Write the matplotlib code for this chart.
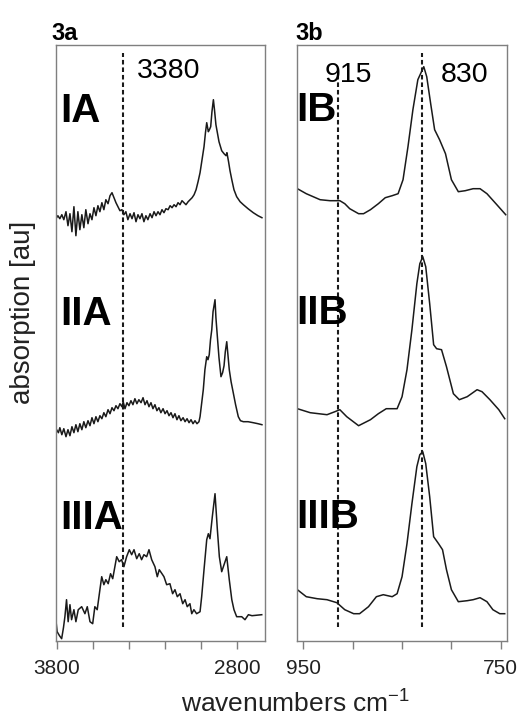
import numpy as np
import matplotlib
matplotlib.use('Agg')
import matplotlib.pyplot as plt

plt.rcParams['font.family'] = ['Liberation Sans', 'DejaVu Sans']
plt.rcParams['mathtext.default'] = 'regular'

# Painel 3a: regiao 3800-2650 cm-1 (unidades arbitrarias)
wn_IA = [3800, 3793, 3782, 3771, 3760, 3748, 3737, 3726, 3715, 3704, 3693, 3682, 3671, 3660, 3649,
         3638, 3626, 3615, 3604, 3593, 3582, 3571, 3560, 3549, 3538, 3527, 3515, 3504, 3493, 3482,
         3471, 3460, 3449, 3438, 3427, 3416, 3405, 3393, 3382, 3371, 3360, 3349, 3338, 3327, 3316,
         3305, 3294, 3282, 3271, 3260, 3249, 3238, 3227, 3216, 3205, 3194, 3182, 3171, 3160, 3149,
         3138, 3127, 3116, 3105, 3094, 3083, 3071, 3060, 3049, 3038, 3027, 3016, 3005, 2994, 2983,
         2975, 2968, 2959, 2953, 2946, 2939, 2931, 2925, 2917, 2909, 2900, 2885, 2872, 2861, 2856,
         2847, 2839, 2829, 2817, 2802, 2783, 2765, 2739, 2710, 2684, 2662]
abs_IA = [23, 25, 22, 26, 21, 29, 15, 27, 9, 34, 5, 29, 11, 26, 13,
          31, 17, 27, 21, 33, 25, 35, 29, 38, 31, 41, 37, 45, 48, 43,
          38, 34, 30, 31, 26, 29, 21, 27, 22, 28, 19, 26, 22, 27, 19,
          25, 21, 27, 23, 29, 25, 29, 26, 31, 28, 32, 31, 35, 33, 36,
          34, 38, 36, 40, 38, 36, 39, 41, 43, 46, 51, 59, 68, 81, 94,
          108, 118, 109, 111, 114, 129, 141, 131, 116, 108, 99, 90, 87, 85, 88,
          79, 70, 61, 51, 44, 39, 36, 32, 28, 25, 23]

wn_IIA = [3800, 3790, 3782, 3771, 3760, 3748, 3737, 3726, 3715, 3704, 3693, 3682, 3671, 3660, 3649,
          3638, 3626, 3615, 3604, 3593, 3582, 3571, 3560, 3549, 3538, 3527, 3515, 3504, 3493, 3482,
          3471, 3460, 3449, 3438, 3431, 3421, 3410, 3399, 3388, 3377, 3366, 3355, 3344, 3332, 3321,
          3310, 3299, 3288, 3277, 3266, 3255, 3244, 3233, 3222, 3210, 3199, 3188, 3177, 3166, 3155,
          3144, 3133, 3122, 3111, 3099, 3088, 3077, 3066, 3055, 3044, 3033, 3022, 3011, 3005, 2997,
          2987, 2978, 2968, 2961, 2954, 2947, 2940, 2933, 2922, 2917, 2909, 2900, 2889, 2880, 2872,
          2865, 2857, 2850, 2843, 2833, 2821, 2808, 2793, 2781, 2765, 2739, 2710, 2684, 2662]
abs_IIA = [11, 8, 13, 6, 12, 4, 11, 5, 14, 8, 16, 9, 17, 11, 19,
           13, 20, 15, 23, 17, 24, 19, 25, 22, 28, 24, 31, 27, 33, 30,
           35, 32, 37, 34, 39, 32, 38, 35, 40, 36, 42, 37, 41, 38, 43,
           36, 40, 34, 38, 32, 36, 30, 33, 28, 32, 27, 30, 25, 28, 23,
           27, 21, 25, 20, 23, 19, 22, 18, 21, 17, 20, 17, 19, 24, 36,
           51, 71, 84, 81, 86, 101, 111, 129, 141, 123, 104, 83, 64, 68, 75,
           89, 99, 85, 71, 59, 48, 36, 24, 20, 19, 19, 18, 17, 16]

wn_IIIA = [3803, 3797, 3784, 3772, 3762, 3754, 3745, 3736, 3726, 3717, 3704, 3693, 3680, 3661, 3643,
           3630, 3615, 3600, 3588, 3575, 3560, 3550, 3538, 3527, 3514, 3501, 3489, 3477, 3467, 3453,
           3440, 3427, 3412, 3397, 3384, 3371, 3356, 3342, 3329, 3316, 3301, 3288, 3273, 3255, 3242,
           3231, 3216, 3205, 3190, 3172, 3157, 3144, 3131, 3116, 3101, 3088, 3076, 3061, 3051, 3039,
           3024, 3005, 2996, 2983, 2968, 2959, 2950, 2937, 2922, 2909, 2898, 2885, 2872, 2857, 2843,
           2829, 2817, 2802, 2774, 2756, 2737, 2717, 2663]
abs_IIIA = [19, 9, 5, 2, 13, 24, 41, 19, 36, 21, 31, 19, 31, 34, 27,
            34, 19, 17, 34, 31, 51, 64, 56, 61, 57, 67, 62, 74, 84, 79,
            81, 74, 84, 91, 86, 91, 82, 87, 81, 86, 84, 91, 81, 74, 64,
            71, 67, 64, 56, 57, 47, 51, 44, 47, 37, 41, 34, 37, 27, 31,
            27, 29, 44, 71, 101, 107, 102, 124, 147, 111, 84, 69, 76, 84, 61,
            41, 31, 24, 24, 21, 26, 25, 26]

# Painel 3b: regiao 955-745 cm-1
wn_IB = [956, 947, 940, 933, 923, 913, 908, 903, 894, 889, 882, 874, 867, 860, 854,
         849, 844, 839, 834, 828, 825, 821, 817, 812, 806, 800, 793, 786, 778, 771,
         764, 754, 745]
abs_IB = [52, 47, 44, 41, 40, 40, 37, 32, 27, 27, 31, 37, 43, 45, 47,
          61, 94, 131, 161, 174, 164, 137, 111, 101, 87, 61, 49, 50, 52, 52,
          47, 36, 26]

wn_IIB = [956, 943, 926, 918, 913, 906, 894, 882, 874, 866, 855, 850, 845, 840, 835,
          832, 829, 826, 822, 818, 815, 810, 805, 798, 792, 784, 774, 769, 761, 752,
          746]
abs_IIB = [32, 28, 26, 29, 31, 24, 15, 21, 27, 32, 32, 44, 71, 111, 157,
           177, 184, 174, 137, 96, 92, 91, 74, 47, 41, 44, 51, 49, 41, 31,
           22]

wn_IIIB = [956, 947, 936, 926, 916, 908, 899, 893, 884, 876, 869, 860, 855, 850, 845,
           840, 835, 832, 829, 826, 822, 818, 813, 809, 805, 800, 793, 784, 778, 771,
           764, 758, 751, 746]
abs_IIIB = [51, 44, 42, 41, 38, 31, 27, 27, 34, 44, 46, 44, 47, 64, 97,
            137, 174, 186, 189, 177, 144, 104, 97, 91, 71, 51, 39, 40, 41, 43,
            39, 31, 27, 27]

rotulos_a = ['IA', 'IIA', 'IIIA']
rotulos_b = ['IB', 'IIB', 'IIIB']
bandas_a = [3430]
bandas_b = [915, 830]
texto_a = ['3380']
texto_b = ['915', '830']

# ===================================================================
desloc = [400, 200, 0]  # empilhamento dos espectros
cor = '#1a1a1a'
cinza = '#7f7f7f'

fig = plt.figure(figsize=(5.25, 7.2), dpi=100)
ax1 = fig.add_axes([55.7 / 525, 1 - 640.7 / 720, 209.3 / 525, 595.7 / 720])
ax2 = fig.add_axes([296.7 / 525, 1 - 640.7 / 720, 210 / 525, 595.7 / 720])

espectros_a = [(wn_IA, abs_IA), (wn_IIA, abs_IIA), (wn_IIIA, abs_IIIA)]
espectros_b = [(wn_IB, abs_IB), (wn_IIB, abs_IIB), (wn_IIIB, abs_IIIB)]

for (x, y), d in zip(espectros_a, desloc):
    ax1.plot(x, np.array(y) + d, color=cor, lw=1.1)
for (x, y), d in zip(espectros_b, desloc):
    ax2.plot(x, np.array(y) + d, color=cor, lw=1.1)

estilo = (0, (2.2, 1.4))
ax1.vlines(bandas_a[0], 14, 588, colors=cor, linestyles=[estilo], lw=1.5)
ax2.vlines(bandas_b[0], 14, 566, colors=cor, linestyles=[estilo], lw=1.5)
ax2.vlines(bandas_b[1], 14, 588, colors=cor, linestyles=[estilo], lw=1.5)

ax1.text(3177, 563, texto_a[0], fontsize=20.5, ha='center', va='baseline')
ax2.text(904, 559, texto_b[0], fontsize=20.5, ha='center', va='baseline')
ax2.text(787, 559, texto_b[1], fontsize=20.5, ha='center', va='baseline')

base_lbl = [519, 316, 112]
for r, b in zip(rotulos_a, base_lbl):
    ax1.text(3779, b, r, fontsize=29, fontweight='bold', ha='left', va='baseline')
for r, b in zip(rotulos_b, base_lbl):
    ax2.text(957.5, b + 1, r, fontsize=29, fontweight='bold', ha='left', va='baseline')

ax1.set_xlim(3805, 2645)
ax2.set_xlim(956.7, 744)
for ax in (ax1, ax2):
    ax.set_ylim(0, 595.7)
    ax.set_yticks([])
    for s in ax.spines.values():
        s.set_color(cinza)
        s.set_linewidth(1.0)
    ax.tick_params(axis='x', direction='out', length=6, width=1.0, color=cinza,
                   labelsize=15, pad=7, labelcolor='#222222')

ax1.set_xticks([3800, 3600, 3400, 3200, 3000, 2800])
ax1.set_xticklabels(['3800', '', '', '', '', '2800'])
ax2.set_xticks([950, 900, 850, 800, 750])
ax2.set_xticklabels(['950', '', '', '', '750'])

fig.text(51.7 / 525, 1 - 39.5 / 720, '3a', fontsize=17, fontweight='bold', ha='left', va='baseline')
fig.text(295.5 / 525, 1 - 39.5 / 720, '3b', fontsize=17, fontweight='bold', ha='left', va='baseline')

fig.text(23.5 / 525, 1 - 312 / 720, 'absorption [au]', fontsize=20, rotation=90,
         ha='center', va='center', color='#222222')
fig.text(295.5 / 525, 1 - 713 / 720, 'wavenumbers cm$^{-1}$', fontsize=19,
         ha='center', va='baseline', color='#222222')

plt.savefig('out.png', dpi=100)
